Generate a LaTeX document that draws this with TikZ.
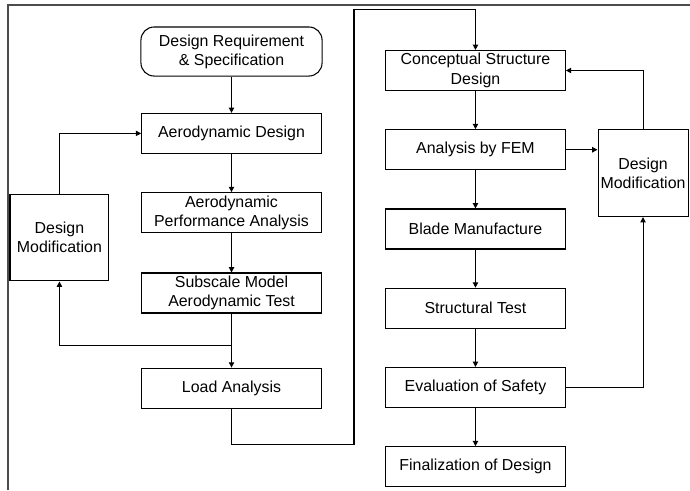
\documentclass[tikz,border=0pt]{standalone}
\usepackage{fontspec}
\setmainfont{Liberation Sans}
\usetikzlibrary{positioning,arrows.meta}

\begin{document}
\begin{tikzpicture}[auto,node distance=2.1cm,
        thick,>={Triangle[length=4pt,width=4pt]},
        main node/.style={rectangle,draw,minimum width=4.76cm,minimum height=1.06cm,inner sep=1pt,align=center,font=\fontsize{12}{14.5}\selectfont},
        start node/.style={main node,rounded corners=0.35cm,minimum width=4.8cm,minimum height=1.3cm},
        mod node/.style={main node,minimum width=2.62cm,minimum height=2.3cm}]

    \useasboundingbox (0,0) rectangle (18.285,-12.985);
    \draw[gray!60!black,line width=1.2pt] (0.212,-12.985) -- (0.212,-0.1325) -- (18.285,-0.1325);

    % aerodynamic side
    \node[start node] (1) at (6.135,-1.365) {Design Requirement\\ \& Specification};
    \node[main node] (2) [below of=1, node distance=2.17cm] {Aerodynamic Design};
    \node[main node] (3) [below of=2] {Aerodynamic\\Performance Analysis};
    \node[main node] (4) [below of=3, node distance=2.13cm] {Subscale Model\\Aerodynamic Test};
    \node[main node] (5) [below of=4, node distance=2.52cm] {Load Analysis};
    \node[mod node] (6) [left of=3, node distance=4.56cm, yshift=-0.66cm] {Design\\Modification};

    % structural side
    \node[main node] (7) at (12.6,-1.868) {Conceptual Structure\\Design};
    \node[main node] (8) [below of=7] {Analysis by FEM};
    \node[main node] (9) [below of=8] {Blade Manufacture};
    \node[main node] (10) [below of=9] {Structural Test};
    \node[main node] (11) [below of=10] {Evaluation of Safety};
    \node[main node] (12) [below of=11] {Finalization of Design};
    \node[mod node, minimum width=2.385cm] (13) [right of=8, node distance=4.44cm, yshift=-0.62cm] {Design\\Modification};

    \coordinate (j) at ([yshift=-0.85cm]4.south);
    \coordinate (a) at ([yshift=-0.95cm]5.south);
    \coordinate (b) at ([yshift=1.06cm]7.north);
    \coordinate (c) at ([xshift=-3.22cm]b);

    \path[->]
    (1) edge node {} (2)
    (2) edge node {} (3)
    (3) edge node {} (4)
    (4) edge node {} (5)
    (7) edge node {} (8)
    (8) edge node {} (9)
    (9) edge node {} (10)
    (10) edge node {} (11)
    (11) edge node {} (12);

    \draw[->] (j) -| (6);
    \draw[->] (6) |- (2);
    \draw[->] (5) -- (a) -| (c) -- (b) -- (7);
    \draw[->] (8) -- (8 -| 13.west);
    \draw[->] (13) |- (7);
    \draw[->] (11) -| (13);
\end{tikzpicture}
\end{document}
